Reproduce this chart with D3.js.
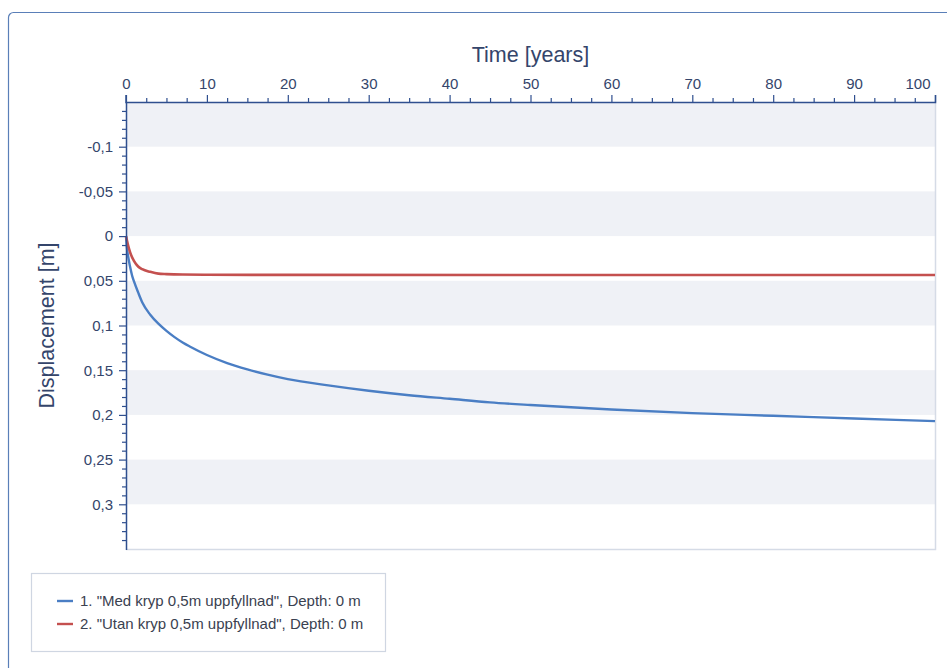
<!DOCTYPE html>
<html>
<head>
<meta charset="utf-8">
<script src="https://cdn.jsdelivr.net/npm/d3@7"></script>
<style>
  html, body { margin: 0; padding: 0; background: #ffffff; }
  svg { display: block; font-family: "Liberation Sans", Arial, sans-serif; }
</style>
</head>
<body>
<svg id="chart" width="947" height="668"></svg>
<script>
// Time axis (years)
const timeTicks = [0, 10, 20, 30, 40, 50, 60, 70, 80, 90, 100];
const timeDomain = [0, 100];

// Displacement axis (m), positive downwards
const dispTicks = [-0.1, -0.05, 0, 0.05, 0.1, 0.15, 0.2, 0.25, 0.3];
const dispTickLabels = ["-0,1", "-0,05", "0", "0,05", "0,1", "0,15", "0,2", "0,25", "0,3"];
const dispDomain = [-0.15, 0.35];

// Series 1: with creep
const medTime = [0, 0.1, 0.25, 0.5, 0.75, 1, 1.5, 2, 3, 4, 5, 6, 7, 8, 10, 12.5, 15, 17.5, 20, 25, 30, 35, 40, 45, 50, 60, 70, 80, 90, 100];
const medDisp = [0, 0.012, 0.022, 0.034, 0.044, 0.051, 0.063, 0.074, 0.088, 0.098, 0.106, 0.113, 0.119, 0.124, 0.133, 0.142, 0.149, 0.155, 0.160, 0.167, 0.173, 0.178, 0.182, 0.186, 0.189, 0.194, 0.198, 0.201, 0.204, 0.207];

// Series 2: without creep
const utanTime = [0, 0.1, 0.25, 0.5, 1, 1.5, 2, 3, 4, 5, 7, 10, 20, 50, 100];
const utanDisp = [0, 0.004, 0.010, 0.018, 0.028, 0.034, 0.037, 0.040, 0.042, 0.0425, 0.043, 0.0432, 0.0434, 0.0435, 0.0435];

const seriesNames = ['1. "Med kryp 0,5m uppfyllnad", Depth: 0 m', '2. "Utan kryp 0,5m uppfyllnad", Depth: 0 m'];
const seriesColors = ["#4a7ec4", "#c4504f"];

const svg = d3.select("#chart");
const axisColor = "#2f4f8f";
const textColor = "#34456b";

const plot = { left: 126, top: 102, right: 935, bottom: 549 };

const x = d3.scaleLinear().domain(timeDomain).range([plot.left, plot.right]);
const y = d3.scaleLinear().domain(dispDomain).range([plot.top, plot.bottom]);

// Outer panel frame
svg.append("rect")
  .attr("x", 8.5).attr("y", 12.5)
  .attr("width", 960).attr("height", 680)
  .attr("rx", 5)
  .attr("fill", "none")
  .attr("stroke", "#5a7fb8")
  .attr("stroke-width", 1.2);

// Alternating horizontal bands
const bandEdges = d3.range(0, 10).map(i => dispDomain[0] + i * 0.05);
svg.append("g").selectAll("rect")
  .data(bandEdges.filter((d, i) => i % 2 === 0))
  .join("rect")
  .attr("x", plot.left)
  .attr("y", d => y(d))
  .attr("width", plot.right - plot.left)
  .attr("height", d => y(d + 0.05) - y(d))
  .attr("fill", "#eff1f6");

// Plot area border (right and bottom)
svg.append("path")
  .attr("d", `M${plot.right + 0.5},${plot.top}V${plot.bottom + 0.5}H${plot.left}`)
  .attr("fill", "none")
  .attr("stroke", "#d5dbe6")
  .attr("stroke-width", 1.5);

// Series lines
const line = d3.line().x(d => x(d[0])).y(d => y(d[1])).curve(d3.curveMonotoneX);
const medData = medTime.map((t, i) => [t, medDisp[i]]);
const utanData = utanTime.map((t, i) => [t, utanDisp[i]]);

svg.append("path").datum(medData)
  .attr("d", line).attr("fill", "none")
  .attr("stroke", seriesColors[0]).attr("stroke-width", 2.4);
svg.append("path").datum(utanData)
  .attr("d", line).attr("fill", "none")
  .attr("stroke", seriesColors[1]).attr("stroke-width", 2.6);

// Top time axis: minor ticks then major ticks with labels
const xMinor = d3.range(0, 100.01, 2.5).filter(v => v % 10 !== 0);
const gxMinor = svg.append("g")
  .attr("transform", `translate(0,${plot.top})`)
  .call(d3.axisTop(x).tickValues(xMinor).tickSize(4).tickFormat(""));
const gx = svg.append("g")
  .attr("transform", `translate(0,${plot.top})`)
  .call(d3.axisTop(x).tickValues(timeTicks).tickSize(7).tickPadding(6).tickFormat(d3.format("d")));
gx.select(".domain").attr("d", `M${plot.left},${-7}V0.5H${plot.right + 0.5}V-7`);
gxMinor.select(".domain").remove();
[gx, gxMinor].forEach(g => {
  g.selectAll("line").attr("stroke", axisColor).attr("stroke-width", 1.2);
  g.select(".domain").attr("stroke", axisColor).attr("stroke-width", 1.5);
});
gx.selectAll("text")
  .attr("fill", textColor)
  .style("font-size", "15px");
gx.selectAll(".tick").filter(d => d === 100).select("text")
  .attr("text-anchor", "end").attr("dx", -5);

// Left displacement axis
const yMinor = d3.range(-15, 35.5, 1).map(v => v / 100).filter(v => Math.round(v * 100) % 5 !== 0);
const gyMinor = svg.append("g")
  .attr("transform", `translate(${plot.left},0)`)
  .call(d3.axisLeft(y).tickValues(yMinor).tickSize(4).tickFormat(""));
const gy = svg.append("g")
  .attr("transform", `translate(${plot.left},0)`)
  .call(d3.axisLeft(y).tickValues(dispTicks).tickSize(7).tickPadding(6)
    .tickFormat((d, i) => dispTickLabels[i]));
gyMinor.select(".domain").remove();
gy.select(".domain").attr("d", `M0.5,${plot.top}V${plot.bottom + 1}`);
[gy, gyMinor].forEach(g => {
  g.selectAll("line").attr("stroke", axisColor).attr("stroke-width", 1.2);
  g.select(".domain").attr("stroke", axisColor).attr("stroke-width", 1.5);
});
gy.selectAll("text")
  .attr("fill", textColor)
  .style("font-size", "15px");

// Axis titles
svg.append("text")
  .attr("x", (plot.left + plot.right) / 2)
  .attr("y", 62)
  .attr("text-anchor", "middle")
  .attr("fill", textColor)
  .style("font-size", "21.5px")
  .text("Time [years]");

svg.append("text")
  .attr("transform", `translate(54,${(plot.top + plot.bottom) / 2}) rotate(-90)`)
  .attr("text-anchor", "middle")
  .attr("fill", textColor)
  .style("font-size", "21.5px")
  .text("Displacement [m]");

// Legend
const legend = svg.append("g");
legend.append("rect")
  .attr("x", 31.5).attr("y", 573.5)
  .attr("width", 354).attr("height", 78)
  .attr("fill", "#ffffff")
  .attr("stroke", "#cfd6e2")
  .attr("stroke-width", 1.2);
seriesNames.forEach((name, i) => {
  const cy = 601 + i * 23;
  legend.append("line")
    .attr("x1", 57).attr("x2", 73)
    .attr("y1", cy).attr("y2", cy)
    .attr("stroke", seriesColors[i]).attr("stroke-width", 2.4);
  legend.append("text")
    .attr("x", 80).attr("y", cy + 5)
    .attr("fill", "#3a4150")
    .style("font-size", "15px")
    .text(name);
});
</script>
</body>
</html>
